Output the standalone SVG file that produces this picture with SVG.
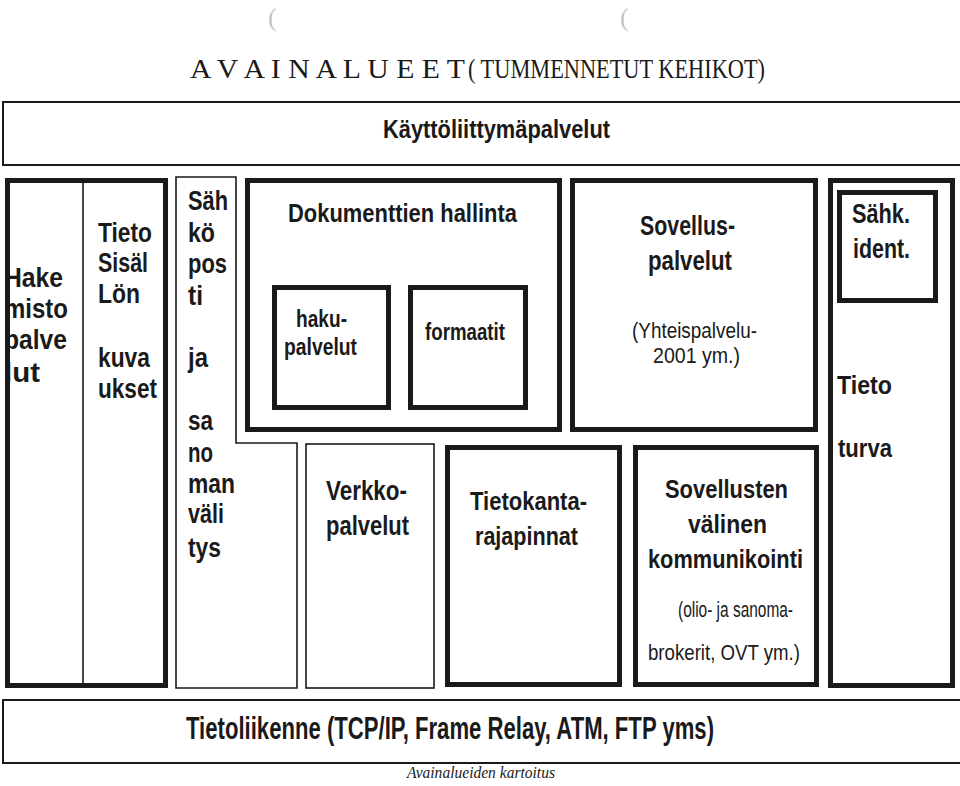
<svg xmlns="http://www.w3.org/2000/svg" width="960" height="786" viewBox="0 0 960 786">
<style>
.thick{fill:#fff;stroke:#1a1a1a;stroke-width:5}
.thin{fill:#fff;stroke:#1a1a1a;stroke-width:1.6}
.band{fill:none;stroke:#1a1a1a;stroke-width:2}
.b{font-family:"Liberation Sans",Arial,sans-serif;font-weight:bold;fill:#1a1a1a}
.r{font-family:"Liberation Sans",Arial,sans-serif;fill:#1a1a1a}
.s{font-family:"Liberation Serif","Times New Roman",serif;fill:#1a1a1a}
</style>
<rect width="960" height="786" fill="#fff"/>
<text x="268" y="26" class="s" font-size="26" style="fill:#c4c4c4">(</text>
<text x="620" y="26" class="s" font-size="26" style="fill:#c4c4c4">(</text>

<g id="title">
<text class="s" font-size="28" y="78"><tspan x="190" textLength="275" lengthAdjust="spacingAndGlyphs">A V A I N A L U E E T</tspan><tspan x="468" textLength="297" lengthAdjust="spacingAndGlyphs">( TUMMENNETUT KEHIKOT)</tspan></text>
</g>

<g id="kayttoliittyma">
<path class="band" d="M960,102 H3 V165 H960"/>
<text class="b" font-size="26" x="383" y="138" textLength="227" lengthAdjust="spacingAndGlyphs">Käyttöliittymäpalvelut</text>
</g>

<g id="hakemisto">
<rect class="thick" x="7.5" y="180.5" width="158" height="505"/>
<line x1="83" y1="181" x2="83" y2="685" stroke="#1a1a1a" stroke-width="1.6"/>
<text class="b" font-size="27">
<tspan x="4" y="287" textLength="59" lengthAdjust="spacingAndGlyphs">Hake</tspan>
<tspan x="4" y="318" textLength="64" lengthAdjust="spacingAndGlyphs">misto</tspan>
<tspan x="4" y="349" textLength="63" lengthAdjust="spacingAndGlyphs">palve</tspan>
<tspan x="4" y="382" textLength="36" lengthAdjust="spacingAndGlyphs">lut</tspan>
</text>
</g>

<g id="tietosisalto">
<text class="b" font-size="28">
<tspan x="98" y="242" textLength="54" lengthAdjust="spacingAndGlyphs">Tieto</tspan>
<tspan x="98" y="272" textLength="50" lengthAdjust="spacingAndGlyphs">Sisäl</tspan>
<tspan x="98" y="303" textLength="42" lengthAdjust="spacingAndGlyphs">Lön</tspan>
<tspan x="98" y="367" textLength="52" lengthAdjust="spacingAndGlyphs">kuva</tspan>
<tspan x="98" y="398" textLength="59" lengthAdjust="spacingAndGlyphs">ukset</tspan>
</text>
</g>

<g id="sahkoposti">
<path class="thin" d="M176,177 H236 V443 H297 V688 H176 Z"/>
<text class="b" font-size="28">
<tspan x="188" y="210" textLength="40" lengthAdjust="spacingAndGlyphs">Säh</tspan>
<tspan x="188" y="242" textLength="27" lengthAdjust="spacingAndGlyphs">kö</tspan>
<tspan x="188" y="273" textLength="39" lengthAdjust="spacingAndGlyphs">pos</tspan>
<tspan x="188" y="305" textLength="15" lengthAdjust="spacingAndGlyphs">ti</tspan>
<tspan x="188" y="367" textLength="20" lengthAdjust="spacingAndGlyphs">ja</tspan>
<tspan x="188" y="430" textLength="25" lengthAdjust="spacingAndGlyphs">sa</tspan>
<tspan x="188" y="462" textLength="25" lengthAdjust="spacingAndGlyphs">no</tspan>
<tspan x="188" y="493" textLength="47" lengthAdjust="spacingAndGlyphs">man</tspan>
<tspan x="188" y="523" textLength="36" lengthAdjust="spacingAndGlyphs">väli</tspan>
<tspan x="188" y="557" textLength="33" lengthAdjust="spacingAndGlyphs">tys</tspan>
</text>
</g>

<g id="dokumenttien">
<rect class="thick" x="247.5" y="180.5" width="312" height="249"/>
<text class="b" font-size="26" x="288" y="222" textLength="229" lengthAdjust="spacingAndGlyphs">Dokumenttien hallinta</text>
</g>

<g id="hakupalvelut">
<rect class="thick" x="274.5" y="287.5" width="114" height="120"/>
<text class="b" font-size="23">
<tspan x="296" y="327" textLength="51" lengthAdjust="spacingAndGlyphs">haku-</tspan>
<tspan x="284" y="355" textLength="73" lengthAdjust="spacingAndGlyphs">palvelut</tspan>
</text>
</g>

<g id="formaatit">
<rect class="thick" x="410.5" y="287.5" width="115" height="120"/>
<text class="b" font-size="23" x="425" y="340" textLength="80" lengthAdjust="spacingAndGlyphs">formaatit</text>
</g>

<g id="sovelluspalvelut">
<rect class="thick" x="572.5" y="180.5" width="243" height="249"/>
<text class="b" font-size="27">
<tspan x="640" y="235" textLength="95" lengthAdjust="spacingAndGlyphs">Sovellus-</tspan>
<tspan x="648" y="270" textLength="84" lengthAdjust="spacingAndGlyphs">palvelut</tspan>
</text>
<text class="r" font-size="22">
<tspan x="632" y="338" textLength="125" lengthAdjust="spacingAndGlyphs">(Yhteispalvelu-</tspan>
<tspan x="653" y="363" textLength="87" lengthAdjust="spacingAndGlyphs">2001 ym.)</tspan>
</text>
</g>

<g id="tietoturva">
<rect class="thick" x="830.5" y="180.5" width="122" height="505"/>
<text class="b" font-size="26">
<tspan x="837" y="394" textLength="55" lengthAdjust="spacingAndGlyphs">Tieto</tspan>
<tspan x="838" y="457" textLength="54" lengthAdjust="spacingAndGlyphs">turva</tspan>
</text>
</g>

<g id="sahkident">
<rect class="thick" x="839.5" y="192.5" width="96" height="108"/>
<text class="b" font-size="27">
<tspan x="852" y="223" textLength="58" lengthAdjust="spacingAndGlyphs">Sähk.</tspan>
<tspan x="853" y="258" textLength="57" lengthAdjust="spacingAndGlyphs">ident.</tspan>
</text>
</g>

<g id="verkkopalvelut">
<rect class="thin" x="306" y="444" width="128" height="244"/>
<text class="b" font-size="27">
<tspan x="326" y="500" textLength="81" lengthAdjust="spacingAndGlyphs">Verkko-</tspan>
<tspan x="326" y="535" textLength="83" lengthAdjust="spacingAndGlyphs">palvelut</tspan>
</text>
</g>

<g id="tietokanta">
<rect class="thick" x="447.5" y="447.5" width="172" height="237"/>
<text class="b" font-size="26">
<tspan x="470" y="510" textLength="117" lengthAdjust="spacingAndGlyphs">Tietokanta-</tspan>
<tspan x="475" y="545" textLength="103" lengthAdjust="spacingAndGlyphs">rajapinnat</tspan>
</text>
</g>

<g id="sovellusten">
<rect class="thick" x="635.5" y="447.5" width="181" height="237"/>
<text class="b" font-size="26">
<tspan x="665" y="498" textLength="123" lengthAdjust="spacingAndGlyphs">Sovellusten</tspan>
<tspan x="688" y="533" textLength="79" lengthAdjust="spacingAndGlyphs">välinen</tspan>
<tspan x="648" y="568" textLength="155" lengthAdjust="spacingAndGlyphs">kommunikointi</tspan>
</text>
<text class="r" font-size="22">
<tspan x="678" y="617" textLength="115" lengthAdjust="spacingAndGlyphs">(olio- ja sanoma-</tspan>
<tspan x="648" y="660" textLength="152" lengthAdjust="spacingAndGlyphs">brokerit, OVT ym.)</tspan>
</text>
</g>

<g id="tietoliikenne">
<path class="band" d="M960,700 H3 V763 H960"/>
<text class="b" font-size="31" x="186" y="739" textLength="528" lengthAdjust="spacingAndGlyphs">Tietoliikenne (TCP/IP, Frame Relay, ATM, FTP yms)</text>
</g>

<g id="caption">
<text class="s" font-size="17" font-style="italic" x="407" y="778" textLength="148" lengthAdjust="spacingAndGlyphs">Avainalueiden kartoitus</text>
</g>

<g id="connectors"/>
</svg>
